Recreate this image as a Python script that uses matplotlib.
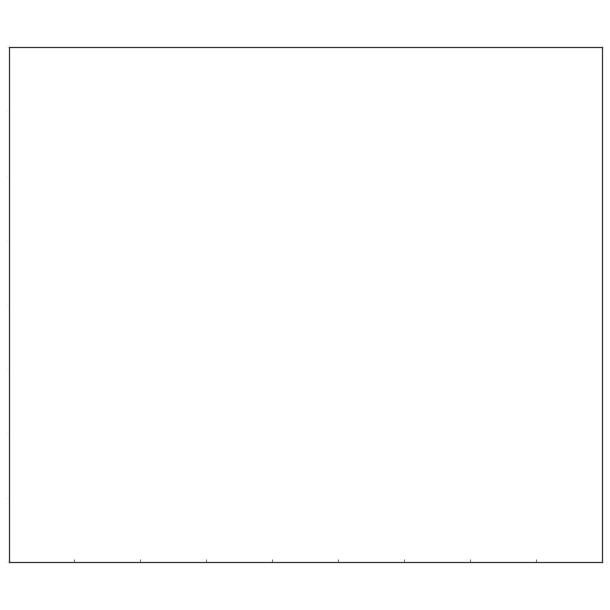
import matplotlib
matplotlib.use("Agg")
import matplotlib.pyplot as plt

# Chart data (the reference shows an empty frame; only the axis ticks are visible)
x_ticks = [0, 1, 2, 3, 4, 5, 6, 7, 8, 9]
y_ticks = [0, 1, 2, 3, 4, 5, 6, 7, 8]
x_values = []
y_values = []

fig = plt.figure(figsize=(6.1, 6.1), dpi=100)
ax = fig.add_axes([8.5 / 610, 1 - 562 / 610, (602 - 8.5) / 610, (562 - 47) / 610])
ax.plot(x_values, y_values, color="white")
ax.set_xlim(0, 9)
ax.set_ylim(0, 8)
ax.set_xticks(x_ticks)
ax.set_yticks(y_ticks)
ax.set_xticklabels([])
ax.set_yticklabels([])
ax.tick_params(axis="x", direction="in", length=2.5, width=0.8, color="#777777")
ax.tick_params(axis="y", direction="out", length=2, width=0.8, color="#f2f2f2")
for s in ax.spines.values():
    s.set_color("#333333")
    s.set_linewidth(0.9)
fig.savefig("out.png", dpi=100, facecolor="white")
